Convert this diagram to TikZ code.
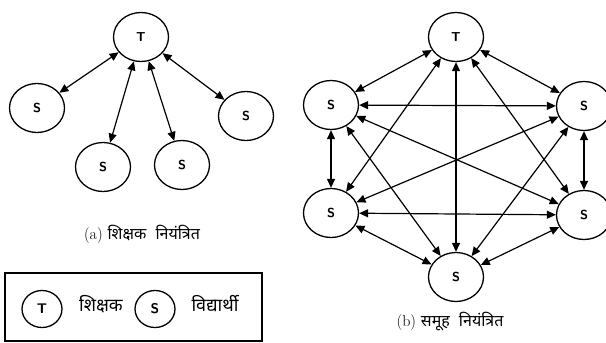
\documentclass[tikz,border=0pt]{standalone}
\usepackage{fontspec}
\newfontfamily\devfont[Script=Devanagari]{Noto Sans}
\usetikzlibrary{shapes.geometric,arrows.meta}
\begin{document}
\begin{tikzpicture}[x=1pt,y=-1pt,
  person/.style={draw,ellipse,line width=1.3pt,minimum width=55pt,minimum height=49pt,inner sep=0pt,font=\sffamily\bfseries\fontsize{13}{13}\selectfont},
  keyperson/.style={draw,ellipse,line width=1.3pt,minimum width=40pt,minimum height=37pt,inner sep=0pt,font=\sffamily\bfseries\fontsize{14}{14}\selectfont},
  link/.style={line width=1.2pt,{Triangle[length=9pt,width=8pt]}-{Triangle[length=9pt,width=8pt]}},
  caption/.style={font=\fontsize{16}{18}\selectfont},
  keytext/.style={font=\devfont\fontsize{18}{20}\selectfont}]
\useasboundingbox (0,0) rectangle (606,343);
% (a) teacher controlled
\node[person] (aT) at (141,37) {T};
\node[person] (aS1) at (37,108) {S};
\node[person] (aS2) at (103,167) {S};
\node[person] (aS3) at (182,165) {S};
\node[person] (aS4) at (246,116) {S};
\draw[link] (aT) -- (aS1);
\draw[link] (aT) -- (aS2);
\draw[link] (aT) -- (aS3);
\draw[link] (aT) -- (aS4);
\node[caption] (capa) at (142,234) {(a) {\devfont शिक्षक\hspace{5pt} नियंत्रित}};
% legend
\node[draw,line width=1.3pt,minimum width=257pt,minimum height=68pt,inner sep=0pt] (key) at (133.5,307) {};
\node[keyperson] (kT) at (42,309) {T};
\node[keytext] (kTt) at (101,304) {शिक्षक};
\node[keyperson] (kS) at (155,309) {S};
\node[keytext] (kSt) at (215,304) {विद्यार्थी};
% (b) group controlled
\node[person] (bT) at (456,37) {T};
\node[person] (bUL) at (331,105) {S};
\node[person] (bUR) at (584,106) {S};
\node[person] (bLL) at (331,213) {S};
\node[person] (bLR) at (584,215) {S};
\node[person] (bB) at (456,277) {S};
\foreach \a/\b in {bT/bUL,bT/bUR,bT/bLL,bT/bLR,bT/bB,
                   bUL/bUR,bUL/bLL,bUL/bLR,bUL/bB,
                   bUR/bLL,bUR/bLR,bUR/bB,
                   bLL/bLR,bLL/bB,bLR/bB}
  \draw[link] (\a) -- (\b);
\node[caption] (capb) at (450,322) {(b) {\devfont समूह\hspace{5pt} नियंत्रित}};
\end{tikzpicture}
\end{document}
